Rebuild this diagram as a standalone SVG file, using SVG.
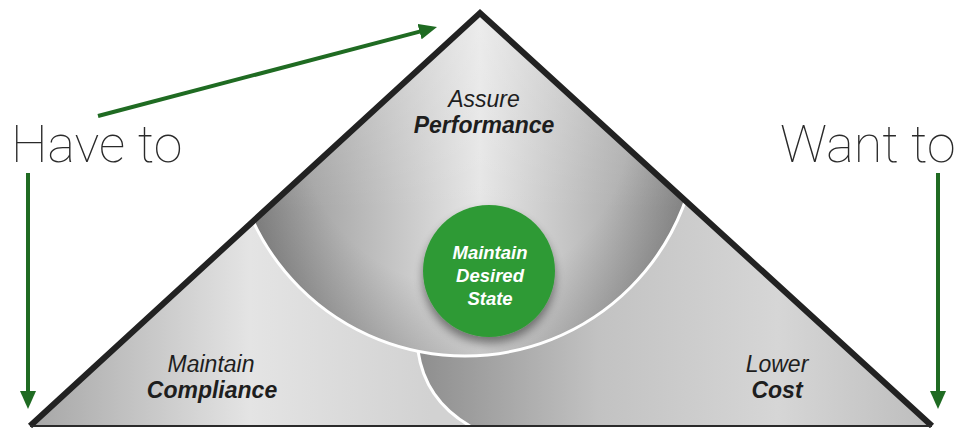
<svg xmlns="http://www.w3.org/2000/svg" width="964" height="428" viewBox="0 0 964 428">
  <defs>
    <style>
      .lbl { font-family: "Liberation Sans", Arial, sans-serif; font-size: 23px; fill: #1e1e1e; text-anchor: middle; }
      .it { font-style: italic; }
      .bi { font-style: italic; font-weight: bold; }
      .big { font-family: Roboto, "Liberation Sans", sans-serif; font-weight: 100; font-size: 52px; fill: #2a2a2a; }
      .ctr { font-family: "Liberation Sans", Arial, sans-serif; font-size: 18.5px; font-style: italic; font-weight: bold; fill: #ffffff; text-anchor: middle; }
      .arrow { stroke: #1f6b22; stroke-width: 4; fill: none; marker-end: url(#ah); }
      .white { stroke: #ffffff; stroke-width: 3; fill: none; }
    </style>
    <marker id="ah" markerUnits="userSpaceOnUse" viewBox="0 0 18 16" markerWidth="18" markerHeight="16" refX="2" refY="8" orient="auto">
      <path d="M0,0 L18,8 L0,16 Z" fill="#1f6b22"/>
    </marker>
    <clipPath id="tri">
      <polygon points="30,426 480,13 932,426"/>
    </clipPath>
    <linearGradient id="gLeft" gradientUnits="userSpaceOnUse" x1="30" y1="0" x2="430" y2="0">
      <stop offset="0" stop-color="#a6a6a6"/>
      <stop offset="0.55" stop-color="#e4e4e4"/>
      <stop offset="1" stop-color="#d2d2d2"/>
    </linearGradient>
    <linearGradient id="gRight" gradientUnits="userSpaceOnUse" x1="418" y1="0" x2="932" y2="0">
      <stop offset="0" stop-color="#8e8e8e"/>
      <stop offset="0.35" stop-color="#c2c2c2"/>
      <stop offset="0.7" stop-color="#d6d6d6"/>
      <stop offset="1" stop-color="#bdbdbd"/>
    </linearGradient>
    <linearGradient id="gTop" gradientUnits="userSpaceOnUse" x1="240" y1="0" x2="720" y2="0">
      <stop offset="0" stop-color="#8a8a8a"/>
      <stop offset="0.5" stop-color="#e6e6e6"/>
      <stop offset="1" stop-color="#8a8a8a"/>
    </linearGradient>
    <linearGradient id="gTopLight" gradientUnits="userSpaceOnUse" x1="0" y1="13" x2="0" y2="210">
      <stop offset="0" stop-color="#ffffff" stop-opacity="0.25"/>
      <stop offset="1" stop-color="#ffffff" stop-opacity="0"/>
    </linearGradient>
    <radialGradient id="gRim" gradientUnits="userSpaceOnUse" cx="465" cy="122" r="234">
      <stop offset="0.7" stop-color="#000" stop-opacity="0"/>
      <stop offset="1" stop-color="#000" stop-opacity="0.14"/>
    </radialGradient>
    <filter id="shadow" x="-30%" y="-30%" width="160%" height="170%">
      <feGaussianBlur in="SourceAlpha" stdDeviation="5"/>
      <feOffset dx="0" dy="6" result="b"/>
      <feComponentTransfer><feFuncA type="linear" slope="0.45"/></feComponentTransfer>
      <feMerge><feMergeNode/><feMergeNode in="SourceGraphic"/></feMerge>
    </filter>
  </defs>

  <rect width="964" height="428" fill="#ffffff"/>

  <g id="pyramid">
    <g clip-path="url(#tri)">
      <rect x="0" y="0" width="964" height="428" fill="url(#gLeft)"/>
      <path d="M418,351 Q425,400 470,426 L960,426 L960,0 L418,0 Z" fill="url(#gRight)"/>
      <circle cx="465" cy="122" r="234" fill="url(#gTop)"/>
      <circle cx="465" cy="122" r="234" fill="url(#gTopLight)"/>
      <circle cx="465" cy="122" r="234" fill="url(#gRim)"/>
      <circle class="white" cx="465" cy="122" r="234"/>
      <path class="white" d="M418,351 Q425,400 470,426"/>
    </g>
    <polyline points="30,426 480,13 932,426" fill="none" stroke="#222222" stroke-width="6" stroke-linejoin="miter"/>
    <line x1="30" y1="426" x2="932" y2="426" stroke="#2a2a2a" stroke-width="2"/>
  </g>

  <g id="performance">
    <text class="lbl it" x="484" y="107">Assure</text>
    <text class="lbl bi" x="484" y="133">Performance</text>
  </g>

  <g id="compliance">
    <text class="lbl it" x="211" y="372">Maintain</text>
    <text class="lbl bi" x="212" y="398">Compliance</text>
  </g>

  <g id="cost">
    <text class="lbl it" x="777" y="372">Lower</text>
    <text class="lbl bi" x="777" y="398">Cost</text>
  </g>

  <g id="desired-state">
    <circle cx="489" cy="271" r="66" fill="#2f9a35" filter="url(#shadow)"/>
    <text class="ctr" x="490" y="259">Maintain</text>
    <text class="ctr" x="490" y="282">Desired</text>
    <text class="ctr" x="490" y="305">State</text>
  </g>

  <g id="have-to">
    <text class="big" x="11" y="162">Have to</text>
  </g>
  <g id="want-to">
    <text class="big" x="780" y="162">Want to</text>
  </g>

  <g id="connectors">
    <line class="arrow" x1="98" y1="116" x2="421.5" y2="31.1"/>
    <line class="arrow" x1="28" y1="173" x2="28" y2="393"/>
    <line class="arrow" x1="938" y1="173" x2="938" y2="393"/>
  </g>
</svg>
